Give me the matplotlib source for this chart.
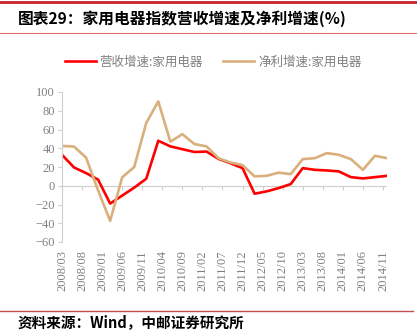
import numpy as np
import matplotlib.pyplot as plt
from matplotlib.lines import Line2D

plt.rcParams['font.family'] = ['Noto Sans CJK SC', 'DejaVu Sans']

# quarterly data, 2008/03 .. 2014/12
quarters = ["2008/03", "2008/06", "2008/09", "2008/12", "2009/03", "2009/06", "2009/09",
            "2009/12", "2010/03", "2010/06", "2010/09", "2010/12", "2011/03", "2011/06",
            "2011/09", "2011/12", "2012/03", "2012/06", "2012/09", "2012/12", "2013/03",
            "2013/06", "2013/09", "2013/12", "2014/03", "2014/06", "2014/09", "2014/12"]
revenue = [33, 19.5, 13.5, 6.5, -19, -10.5, -2, 7.5, 48, 42, 39, 36, 36.5, 28.7,
           24, 18.8, -8.5, -6, -2.5, 1.8, 18.8, 17, 16.3, 15.3, 9.2, 7.8, 9.2, 10.6]
profit = [42.5, 41.8, 30, -5, -37.5, 9, 20, 67, 90, 47, 55, 44.5, 42, 29.4,
          24.8, 22, 10, 10.6, 14, 12.4, 28.4, 29.4, 34.8, 33, 28.4, 17, 32, 29.4]
tick_labels = ["2008/03", "2008/08", "2009/01", "2009/06", "2009/11", "2010/04", "2010/09",
               "2011/02", "2011/07", "2011/12", "2012/05", "2012/10", "2013/03", "2013/08",
               "2014/01", "2014/06", "2014/11"]

# months since 2008/03
def month_idx(s):
    y, m = s.split("/")
    return (int(y) - 2008) * 12 + int(m) - 3

x = np.array([month_idx(q) for q in quarters])
tick_pos = [month_idx(t) for t in tick_labels]

fig = plt.figure(figsize=(4.17, 3.30), dpi=100)
W, H = 417, 330

def fy(px):
    return 1 - px / H

# header / footer rules
fig.add_artist(Line2D([0, 1], [fy(2), fy(2)], color="#C8232C", lw=2.0))
fig.add_artist(Line2D([0, 1], [fy(33), fy(33)], color="#E07070", lw=0.8))
fig.add_artist(Line2D([0, 413 / W], [fy(311), fy(311)], color="#C0504D", lw=1.0))

fig.text(18 / W, fy(19), "图表29：家用电器指数营收增速及净利增速(%)", fontsize=11.3,
         fontweight="bold", va="center", ha="left", color="black")
fig.text(18 / W, fy(322), "资料来源：Wind，中邮证券研究所", fontsize=10.5,
         fontweight="bold", va="center", ha="left", color="black")

ax = fig.add_axes([62 / W, fy(242), (387 - 62) / W, (242 - 92) / H])

red = "#FF0000"
tan = "#D9B07C"
ax.plot(x, revenue, color=red, lw=1.9, label="营收增速:家用电器")
ax.plot(x, profit, color=tan, lw=1.9, label="净利增速:家用电器")

ax.set_xlim(0, 81)
ax.set_ylim(-60, 100)
ax.set_yticks(np.arange(-60, 101, 20))

grey = "#808080"
axis_col = "#D0D0D0"
for s in ["top", "right", "bottom"]:
    ax.spines[s].set_visible(False)
ax.spines["left"].set_color(axis_col)
ax.tick_params(axis="y", colors=axis_col, labelcolor=grey, length=3, width=0.8,
               labelsize=9, pad=2)
for lab in ax.get_yticklabels():
    lab.set_family("Liberation Serif")

ax.set_xticks(tick_pos)
ax.set_xticklabels(tick_labels, rotation=90, family="Liberation Serif", fontsize=9,
                   color=grey)
ax.tick_params(axis="x", length=0, pad=6)

# zero line with tick marks
ax.axhline(0, color=axis_col, lw=0.9, zorder=0)
zx = ax.secondary_xaxis(60 / 160)
zx.spines["bottom"].set_visible(False)
zx.set_xticks(tick_pos)
zx.set_xticklabels([])
zx.tick_params(axis="x", direction="out", length=3, width=0.8, color=axis_col)

leg = fig.legend(loc="center", bbox_to_anchor=(213 / W, fy(62)), ncol=2, frameon=False,
                 fontsize=9, handlelength=2.5, columnspacing=1.6, handletextpad=0.3)
for t in leg.get_texts():
    t.set_color(grey)

fig.savefig("out.png", dpi=100)
